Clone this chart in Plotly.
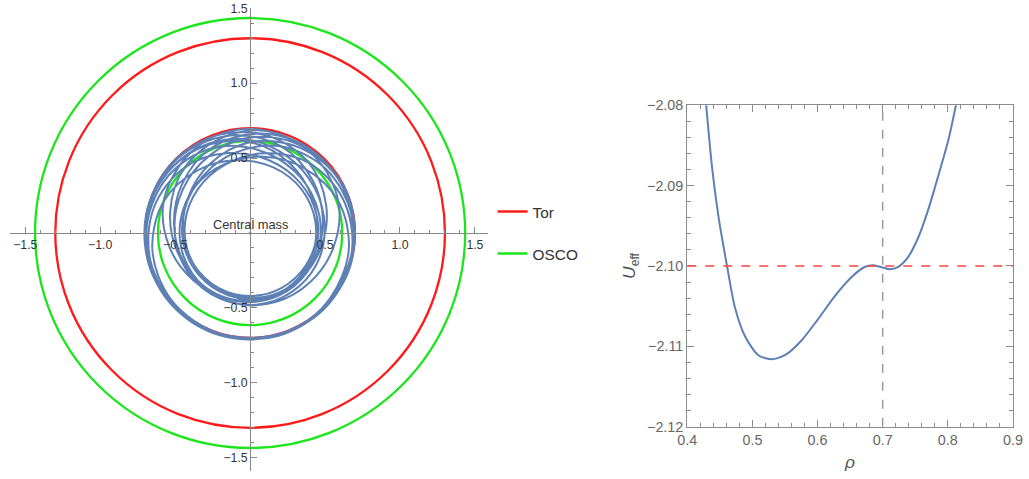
import numpy as np
import plotly.graph_objects as go

# ---------------- data ----------------
# orbit (left panel): polar samples (angle in degrees, radius),
# listed loop by loop (each loop = one inward excursion), with the outer arcs between them
seg_start_phi = [-40]
seg_start_rho = [0.700]

loopA_phi = [-10, 20, 50, 80, 110, 140, 170, 200, 230, 260, 290, 320, 350, 380, 410, 440, 470]
loopA_rho = [0.690, 0.660, 0.610, 0.540, 0.485, 0.455, 0.440, 0.432, 0.430, 0.432, 0.440, 0.455, 0.485, 0.540, 0.610, 0.660, 0.690]
arc1_phi = [500, 530, 560, 590, 620, 650, 680, 710]
arc1_rho = [0.700, 0.705, 0.708, 0.705, 0.700, 0.700, 0.703, 0.700]

loopB_phi = [750, 780, 810, 840, 870, 900, 930, 960, 990, 1020, 1050, 1080, 1110, 1140, 1170, 1200, 1230]
loopB_rho = [0.690, 0.658, 0.606, 0.534, 0.477, 0.446, 0.430, 0.422, 0.420, 0.422, 0.430, 0.446, 0.477, 0.534, 0.606, 0.658, 0.690]
arc2_phi = [1260, 1290, 1320, 1350, 1380, 1410, 1440, 1470]
arc2_rho = [0.700, 0.706, 0.712, 0.710, 0.705, 0.700, 0.698, 0.697]

loopC_phi = [1515, 1545, 1575, 1605, 1635, 1665, 1695, 1725, 1755, 1785, 1815, 1845, 1875, 1905, 1935, 1965, 1995]
loopC_rho = [0.690, 0.664, 0.618, 0.552, 0.501, 0.473, 0.460, 0.452, 0.450, 0.452, 0.460, 0.473, 0.501, 0.552, 0.618, 0.664, 0.690]
arc3_phi = [2025, 2055, 2085, 2115, 2145]
arc3_rho = [0.700, 0.708, 0.712, 0.706, 0.700]

loopD_phi = [2170, 2200, 2230, 2260, 2290, 2320, 2350, 2380, 2410, 2440, 2470, 2500, 2530, 2560, 2590, 2620, 2650]
loopD_rho = [0.690, 0.662, 0.614, 0.546, 0.493, 0.464, 0.450, 0.442, 0.440, 0.442, 0.450, 0.464, 0.493, 0.546, 0.614, 0.662, 0.690]
arc4_phi = [2680, 2710, 2740, 2770, 2800, 2830, 2860, 2900]
arc4_rho = [0.700, 0.705, 0.710, 0.712, 0.708, 0.703, 0.700, 0.697]

loopE_phi = [2935, 2965, 2995, 3025, 3055, 3085, 3115, 3145, 3175, 3205, 3235, 3265, 3295, 3325, 3355, 3385, 3415]
loopE_rho = [0.690, 0.666, 0.622, 0.558, 0.509, 0.482, 0.470, 0.462, 0.460, 0.462, 0.470, 0.482, 0.509, 0.558, 0.622, 0.666, 0.690]
arc5_phi = [3445, 3475, 3505, 3535]
arc5_rho = [0.700, 0.707, 0.710, 0.703]

loopF_phi = [3560, 3590, 3620, 3650, 3680, 3710, 3740, 3770, 3800, 3830, 3860, 3890, 3920, 3950, 3980, 4010, 4040]
loopF_rho = [0.690, 0.668, 0.626, 0.564, 0.517, 0.491, 0.480, 0.472, 0.470, 0.472, 0.480, 0.491, 0.517, 0.564, 0.626, 0.668, 0.690]

loopG_phi = [4065, 4090, 4120, 4150, 4180, 4210, 4240, 4270, 4300, 4330, 4360, 4390, 4420, 4450, 4480, 4510, 4540]
loopG_rho = [0.692, 0.662, 0.614, 0.546, 0.493, 0.464, 0.450, 0.442, 0.440, 0.442, 0.450, 0.464, 0.493, 0.546, 0.614, 0.662, 0.690]
arc6_phi = [4570, 4600, 4630, 4660, 4690]
arc6_rho = [0.700, 0.705, 0.708, 0.703, 0.698]

loopH_phi = [4715, 4745, 4775, 4805, 4835, 4865, 4895, 4925, 4955, 4985, 5015, 5045, 5075, 5105, 5135, 5165, 5195]
loopH_rho = [0.690, 0.670, 0.630, 0.570, 0.525, 0.500, 0.490, 0.482, 0.480, 0.482, 0.490, 0.500, 0.525, 0.570, 0.630, 0.670, 0.690]
arc7_phi = [5225, 5255]
arc7_rho = [0.700, 0.702]

tor_radii = [1.30, 0.70]
osco_radii = [1.435, 0.615]
central_mass_label = "Central mass"
left_ticks = [-1.5, -1.0, -0.5, 0.5, 1.0, 1.5]

# effective potential (right panel)
pot_rho = [0.429, 0.438, 0.448, 0.461, 0.473, 0.489, 0.509, 0.530, 0.550, 0.575, 0.600, 0.626,
           0.652, 0.673, 0.686, 0.700, 0.711, 0.724, 0.739, 0.755, 0.770, 0.785, 0.801, 0.813]
pot_u = [-2.0800, -2.0877, -2.0939, -2.1000, -2.1051, -2.1088, -2.1111, -2.1116, -2.1111, -2.1093,
         -2.1067, -2.1038, -2.1014, -2.1001, -2.0999, -2.1002, -2.1004, -2.1001, -2.0989, -2.0964,
         -2.0930, -2.0889, -2.0843, -2.0798]
energy_level = -2.10
rho_mark = 0.70
right_xticks = [0.4, 0.5, 0.6, 0.7, 0.8, 0.9]
right_yticks = [-2.12, -2.11, -2.10, -2.09, -2.08]

orbit_phi_deg = (seg_start_phi + loopA_phi + arc1_phi + loopB_phi + arc2_phi + loopC_phi + arc3_phi
                 + loopD_phi + arc4_phi + loopE_phi + arc5_phi + loopF_phi + loopG_phi + arc6_phi
                 + loopH_phi + arc7_phi)
orbit_rho = (seg_start_rho + loopA_rho + arc1_rho + loopB_rho + arc2_rho + loopC_rho + arc3_rho
             + loopD_rho + arc4_rho + loopE_rho + arc5_rho + loopF_rho + loopG_rho + arc6_rho
             + loopH_rho + arc7_rho)

# ---------------- styling ----------------
W, H = 1029, 479
# the captured page shows the figure offset by the body margin and fitted back into W x H
OFF = 8
SX = W / (W + 2 * OFF)
SY = H / (H + 2 * OFF)
FS = 1.0 / ((SX + SY) / 2)      # font compensation
FONT = "Liberation Sans, Arial, sans-serif"
BLUE = "#5E81B5"
RED = "#FF1A1A"
GREEN = "#1AE61A"

def fig_x(p):
    return p / SX - OFF

def fig_y(p):
    return p / SY - OFF

def px_x(p):
    return min(max(fig_x(p) / W, 0.0), 1.0)

def px_y(p):
    return min(max((H - fig_y(p)) / H, 0.0), 1.0)

# left panel geometry, in target pixels: origin (249, 233), 150.5 / 150 px per unit
L_ORIG = (249.0, 233.0)
L_SCALE = (150.5, 150.0)
L_BOX = (8.0, 488.0, 8.0, 487.0)  # left, right, top, bottom (bottom clipped by the figure)
lx_dom = [px_x(L_BOX[0]), px_x(L_BOX[1])]
ly_dom = [px_y(min(L_BOX[3], (H + OFF) * SY)), px_y(L_BOX[2])]

def inv_x(frac):
    return ((frac * W + OFF) * SX - L_ORIG[0]) / L_SCALE[0]

def inv_y(frac):
    return (L_ORIG[1] - ((H - frac * H) + OFF) * SY) / L_SCALE[1]

lx_rng = [inv_x(lx_dom[0]), inv_x(lx_dom[1])]
ly_rng = [inv_y(ly_dom[0]), inv_y(ly_dom[1])]
x_axis_pos = ly_dom[0] + (0 - ly_rng[0]) / (ly_rng[1] - ly_rng[0]) * (ly_dom[1] - ly_dom[0])
y_axis_pos = lx_dom[0] + (0 - lx_rng[0]) / (lx_rng[1] - lx_rng[0]) * (lx_dom[1] - lx_dom[0])

# right panel geometry
rx_dom = [px_x(688), px_x(1015)]
ry_dom = [px_y(427), px_y(105)]

fig = go.Figure()

phi = np.deg2rad(np.array(orbit_phi_deg, dtype=float))
rho = np.array(orbit_rho, dtype=float)
fig.add_trace(go.Scatter(
    x=rho * np.cos(phi), y=rho * np.sin(phi), mode="lines",
    line=dict(color=BLUE, width=2, shape="spline", smoothing=1.0),
    xaxis="x", yaxis="y", showlegend=False, hoverinfo="skip"))

# central mass dot
fig.add_trace(go.Scatter(x=[0], y=[0], mode="markers", marker=dict(color=GREEN, size=3),
                         xaxis="x", yaxis="y", showlegend=False, hoverinfo="skip"))

# legend entries for the circles
fig.add_trace(go.Scatter(x=[None], y=[None], mode="lines", name="Tor",
                         line=dict(color=RED, width=2.5), legendgroup="tor",
                         xaxis="x", yaxis="y"))
fig.add_trace(go.Scatter(x=[None], y=[None], mode="lines", name="OSCO",
                         line=dict(color=GREEN, width=2.5), legendgroup="osco",
                         xaxis="x", yaxis="y"))

shapes = []
for r in osco_radii:
    shapes.append(dict(type="circle", xref="x", yref="y", x0=-r, x1=r, y0=-r, y1=r,
                       line=dict(color=GREEN, width=2.3), layer="below"))
for r in tor_radii:
    shapes.append(dict(type="circle", xref="x", yref="y", x0=-r, x1=r, y0=-r, y1=r,
                       line=dict(color=RED, width=2.3), layer="below"))

# right panel
fig.add_trace(go.Scatter(x=pot_rho, y=pot_u, mode="lines",
                         line=dict(color=BLUE, width=2, shape="spline", smoothing=0.7),
                         xaxis="x2", yaxis="y2", showlegend=False, hoverinfo="skip"))
shapes.append(dict(type="line", xref="x2 domain", yref="y2", x0=0, x1=1,
                   y0=energy_level, y1=energy_level,
                   line=dict(color="#FF4040", width=1.6, dash="dash")))
shapes.append(dict(type="line", xref="x2", yref="y2 domain", x0=rho_mark, x1=rho_mark,
                   y0=0, y1=1, line=dict(color="#9A9A9A", width=1.5, dash="dash")))

tickfont_left = dict(family=FONT, size=12 * FS, color="#333333")
tickfont_right = dict(family=FONT, size=14 * FS, color="#666666")

fig.update_layout(
    width=W, height=H, margin=dict(l=0, r=0, t=0, b=0),
    paper_bgcolor="white", plot_bgcolor="rgba(0,0,0,0)",
    font=dict(family=FONT),
    shapes=shapes,
    showlegend=True,
    legend=dict(x=px_x(492.5), y=px_y(195), xanchor="left", yanchor="top",
                font=dict(family=FONT, size=15 * FS, color="#333333"),
                tracegroupgap=19, bgcolor="rgba(0,0,0,0)"),
    annotations=[dict(x=0.0, y=0.055, xref="x", yref="y", text=central_mass_label,
                      showarrow=False, font=dict(family=FONT, size=12.5 * FS, color="#333333"))],
    xaxis=dict(domain=lx_dom, range=lx_rng, anchor="free", position=x_axis_pos,
               showgrid=False, zeroline=False, showline=True, linecolor="#888888", linewidth=1,
               ticks="inside", ticklen=6, tickcolor="#888888", ticklabeloverflow="allow",
               tickvals=left_ticks, tickformat=".1f", tickfont=tickfont_left,
               minor=dict(dtick=0.1, tick0=0, ticks="inside", ticklen=3, tickcolor="#888888")),
    yaxis=dict(domain=ly_dom, range=ly_rng, anchor="free", position=y_axis_pos,
               showgrid=False, zeroline=False, showline=True, linecolor="#888888", linewidth=1,
               ticks="inside", ticklen=6, tickcolor="#888888", ticklabeloverflow="allow",
               tickvals=left_ticks, tickformat=".1f", tickfont=tickfont_left,
               minor=dict(dtick=0.1, tick0=0, ticks="inside", ticklen=3, tickcolor="#888888")),
    xaxis2=dict(domain=rx_dom, range=[0.4, 0.9], anchor="y2",
                showgrid=False, zeroline=False, showline=True, mirror="ticks",
                linecolor="#8C8C8C", linewidth=1.2,
                ticks="inside", ticklen=7, tickcolor="#8C8C8C", ticklabeloverflow="allow",
                tickvals=right_xticks, tickformat=".1f", tickfont=tickfont_right,
                minor=dict(dtick=0.02, tick0=0.4, ticks="inside", ticklen=4, tickcolor="#8C8C8C"),
                title=dict(text="<i>ρ</i>", font=dict(family=FONT, size=17 * FS, color="#555555"),
                           standoff=8)),
    yaxis2=dict(domain=ry_dom, range=[-2.12, -2.08], anchor="x2",
                showgrid=False, zeroline=False, showline=True, mirror="ticks",
                linecolor="#8C8C8C", linewidth=1.2,
                ticks="inside", ticklen=7, tickcolor="#8C8C8C", ticklabeloverflow="allow",
                tickvals=right_yticks, tickformat=".2f", tickfont=tickfont_right,
                minor=dict(dtick=0.002, tick0=-2.12, ticks="inside", ticklen=4, tickcolor="#8C8C8C"),
                title=dict(text="<i>U</i><sub>eff</sub>", font=dict(family=FONT, size=17 * FS, color="#555555"),
                           standoff=6)),
)

fig.write_html("out.html")
